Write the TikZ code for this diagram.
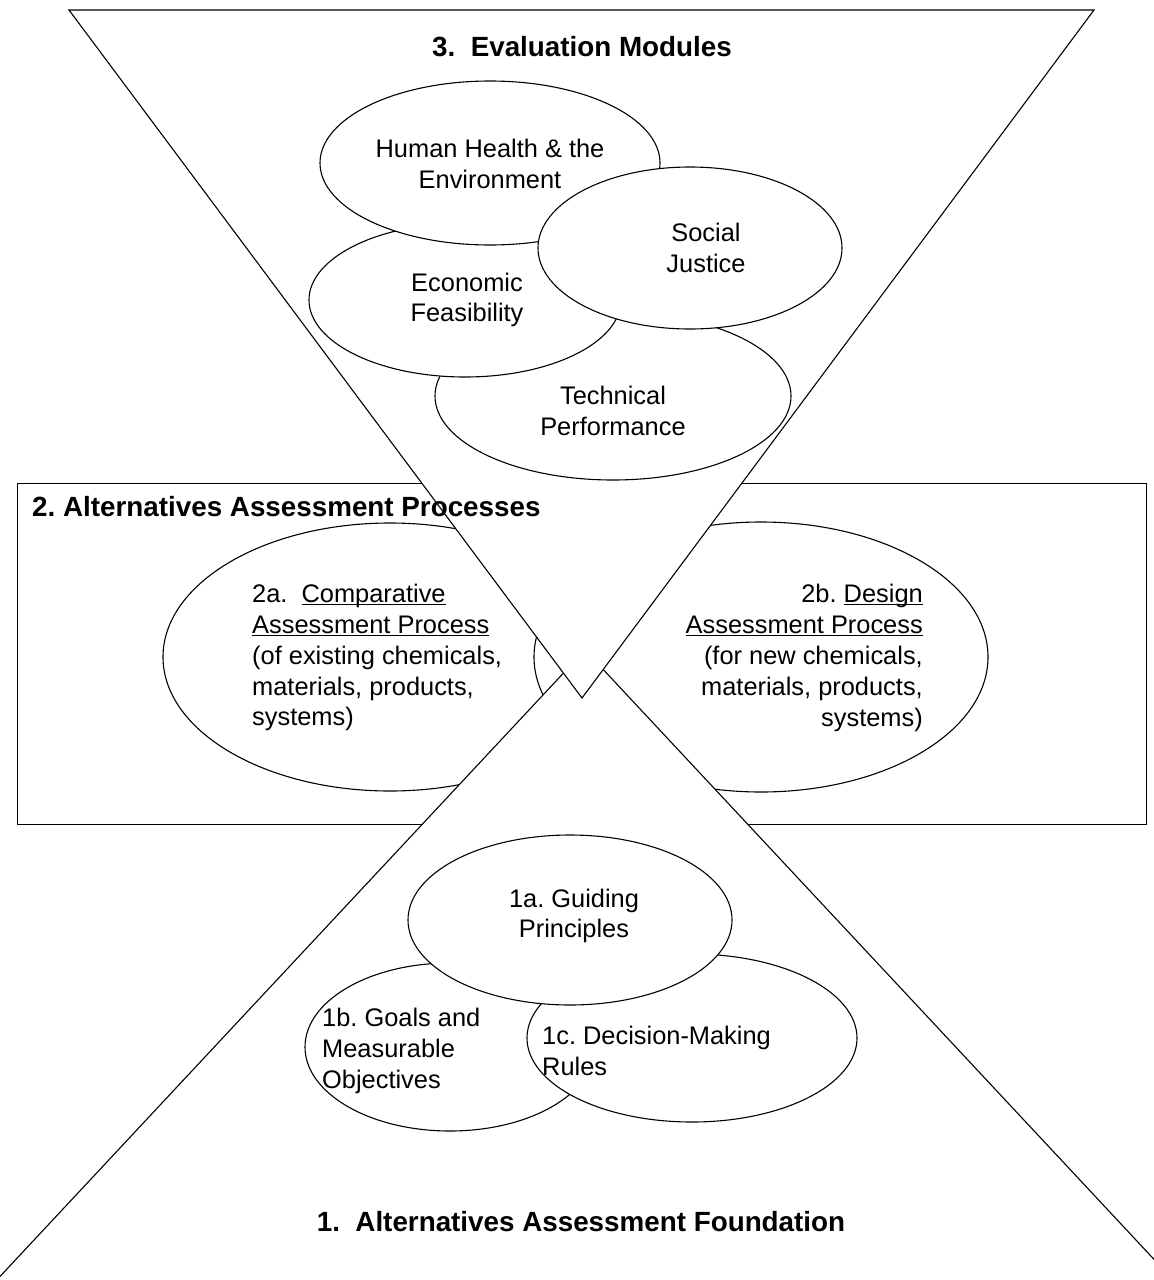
\documentclass[tikz,border=0pt]{standalone}
\usepackage{fontspec}
\setmainfont{Liberation Sans}
\usetikzlibrary{shapes.geometric}
\frenchspacing
% underline at a fixed distance below the baseline, whatever the descenders
\newcommand{\ulword}[1]{\underline{\smash{#1}}}
\begin{document}
\begin{tikzpicture}[x=1pt,y=-1pt,
  outline/.style={draw=black, line width=1.1pt, fill=white},
  bubble/.style={outline, ellipse, inner sep=0pt},
  body/.style={font=\fontsize{25.4}{30.8}\selectfont, inner sep=0pt},
  heading/.style={font=\fontsize{27.8}{33}\selectfont\bfseries, inner sep=0pt}]
\useasboundingbox (0,0) rectangle (1154,1280);
\clip (0,0) rectangle (1154,1280);
\fill[white] (0,0) rectangle (1154,1280);

% frame of section 2
\node[outline, rectangle, anchor=north west, minimum width=1129pt,
      minimum height=341pt, inner sep=0pt] (frame) at (17,483) {};

% the two assessment processes
\node[bubble, minimum width=454pt, minimum height=268pt] (procA) at (390,657) {};
\node[bubble, minimum width=454pt, minimum height=270pt] (procB) at (761,657) {};

% foundation triangle (apex up, base below the page)
\coordinate (fApex) at (585,650);
\coordinate (fLeft) at (-36,1315);
\coordinate (fRight) at (1206,1315);
\filldraw[outline] (fApex) -- (fRight) -- (fLeft) -- cycle;

% evaluation triangle (apex down)
\coordinate (eLeft) at (69,10);
\coordinate (eRight) at (1094,10);
\coordinate (eApex) at (582,698);
\filldraw[outline] (eLeft) -- (eRight) -- (eApex) -- cycle;

% evaluation modules
\node[bubble, minimum width=356pt, minimum height=168pt] (tech) at (613,396) {};
\node[bubble, minimum width=312pt, minimum height=154pt] (econ) at (465,300) {};
\node[bubble, minimum width=340pt, minimum height=164pt] (health) at (490,163) {};
\node[bubble, minimum width=304pt, minimum height=162pt] (social) at (690,248) {};

% foundation elements
\node[bubble, minimum width=290pt, minimum height=168pt] (goals) at (450,1047) {};
\node[bubble, minimum width=330pt, minimum height=168pt] (rules) at (692,1038) {};
\node[bubble, minimum width=324pt, minimum height=170pt] (principles) at (570,920) {};

% texts
\node[body, align=center] (healthT) at (490,164) {Human Health \& the\\Environment};
\node[body, align=center] (socialT) at (706,248) {Social\\Justice};
\node[body, align=center] (econT) at (467,300) {Economic\\Feasibility};
\node[body, align=center] (techT) at (613,411) {Technical\\Performance};
\node[body, align=left, anchor=west] (procAT) at (252,658)
  {2a.\ \ \ulword{Comparative}\\\ulword{Assessment Process}\\(of existing chemicals,\\materials, products,\\systems)};
\node[body, align=right, anchor=east] (procBT) at (923,658)
  {2b. \ulword{Design}\\\ulword{Assessment Process}\\(for new chemicals,\\materials, products,\\systems)};
\node[body, align=center] (principlesT) at (574,916) {1a. Guiding\\Principles};
\node[body, align=left, anchor=west] (goalsT) at (322,1051) {1b. Goals and\\Measurable\\Objectives};
\node[body, align=left, anchor=west] (rulesT) at (542,1051) {1c. Decision-Making\\Rules};

% section headings
\node[heading] (evalH) at (582,47) {3.\ \ Evaluation Modules};
\node[heading, anchor=west] (procH) at (32,507) {2. Alternatives Assessment Processes};
\node[heading] (foundH) at (581,1222) {1.\ \ Alternatives Assessment Foundation};
\end{tikzpicture}
\end{document}
